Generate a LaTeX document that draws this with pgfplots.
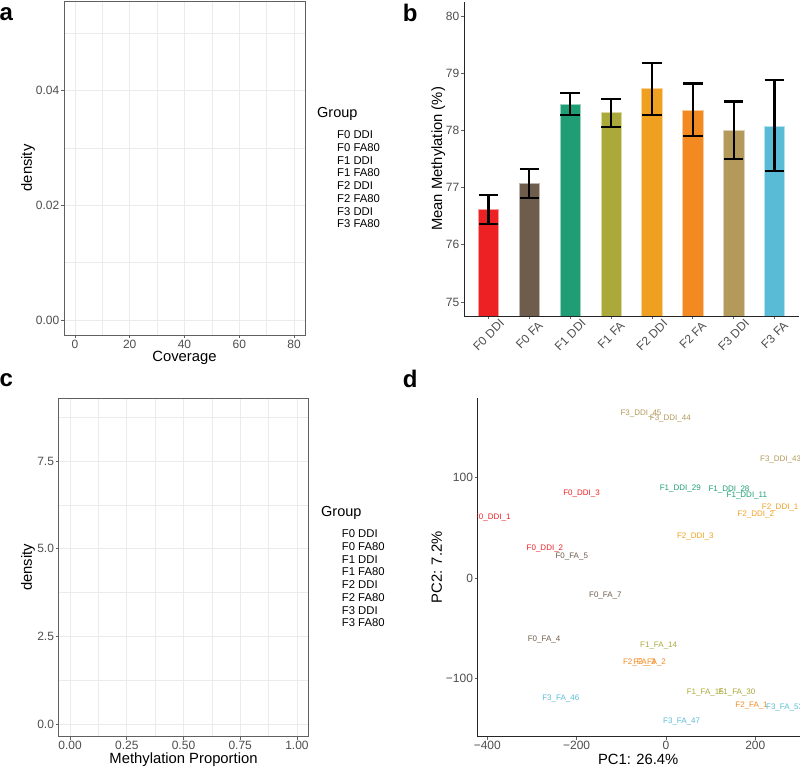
\documentclass[border=0pt]{standalone}
\usepackage{fontspec}
\setmainfont{Liberation Sans}
\usepackage{pgfplots}
\pgfplotsset{compat=1.18}
\definecolor{cA}{HTML}{ED2024}
\definecolor{cB}{HTML}{6E5C4C}
\definecolor{cC}{HTML}{1F9E75}
\definecolor{cD}{HTML}{AAA93A}
\definecolor{cE}{HTML}{F0A021}
\definecolor{cF}{HTML}{F28A21}
\definecolor{cG}{HTML}{B39A5A}
\definecolor{cH}{HTML}{5ABBD6}
\definecolor{tickgray}{HTML}{4D4D4D}
\definecolor{gridgray}{HTML}{EBEBEB}
\definecolor{framegray}{HTML}{606060}
\pgfplotsset{
  every axis/.append style={
    scale only axis,
    /pgf/number format/assume math mode=true,
    tick label style={font=\fontsize{12}{14}\selectfont, text=tickgray},
    label style={font=\fontsize{14.8}{17}\selectfont},
    tick align=outside,
    major tick length=3pt,
    minor tick length=0pt,
    tick style={draw=framegray, line width=0.6pt},
    xtick pos=bottom, ytick pos=left,
    yticklabel style={inner sep=1.5pt},
    xticklabel style={inner sep=1.5pt},
  },
  densityaxis/.style={
    axis line style={draw=framegray, line width=0.8pt},
    grid=both,
    major grid style={draw=gridgray, line width=0.9pt},
    minor grid style={draw=gridgray, line width=0.45pt},
  },
  errstyle/.style={
    error bars/.cd, y dir=both, y explicit,
    error bar style={line width=2.2pt, draw=black},
    error mark options={rotate=90, mark size=9.8pt, line width=2.2pt, draw=black},
  },
  pcalabel/.style={
    only marks, mark=*, mark size=0pt, mark options={draw=none, fill=none},
    point meta=explicit symbolic,
    nodes near coords,
    nodes near coords style={anchor=center, font=\fontsize{8}{9}\selectfont, text=#1, inner sep=0pt},
  },
}
\begin{document}
\begin{tikzpicture}
\useasboundingbox (0,0) rectangle (800pt,768pt);

% ---------- panel a ----------
\begin{axis}[densityaxis,
  at={(64pt,433pt)}, anchor=south west, width=241pt, height=334pt,
  xmin=-4, xmax=84, ymin=-0.00262, ymax=0.0556,
  xtick={0,20,40,60,80}, minor xtick={10,30,50,70},
  ytick={0,0.02,0.04}, minor ytick={0.01,0.03,0.05},
  scaled y ticks=false,
  yticklabel style={/pgf/number format/.cd, fixed, fixed zerofill, precision=2},
  xlabel={Coverage}, ylabel={density},
  xlabel style={at={(axis description cs:0.5,-0.0689)}, anchor=center},
  ylabel style={at={(axis description cs:-0.149,0.5)}, anchor=center},
]
\end{axis}

% ---------- panel b ----------
\begin{axis}[
  at={(464pt,452pt)}, anchor=south west, width=335pt, height=314pt,
  xmin=0.4, xmax=8.6, ymin=74.755, ymax=80.245,
  axis x line*=bottom, axis y line*=left,
  axis line style={draw=black!85, line width=0.9pt},
  xtick={1,2,3,4,5,6,7,8},
  xticklabels={F0 DDI, F0 FA, F1 DDI, F1 FA, F2 DDI, F2 FA, F3 DDI, F3 FA},
  xticklabel style={anchor=center, yshift=-16pt, rotate=45},
  ytick={75,76,77,78,79,80},
  ybar, bar width=0.5, bar shift=0pt,
  ylabel={Mean Methylation (\%)},
  ylabel style={at={(axis description cs:-0.0767,0.5)}, anchor=center},
]
\addplot[fill=cA, draw=cA!45!white, line width=0.6pt, errstyle] coordinates {(1,76.62) +- (0,0.25)};
\addplot[fill=cB, draw=cB!45!white, line width=0.6pt, errstyle] coordinates {(2,77.07) +- (0,0.25)};
\addplot[fill=cC, draw=cC!45!white, line width=0.6pt, errstyle] coordinates {(3,78.46) +- (0,0.19)};
\addplot[fill=cD, draw=cD!45!white, line width=0.6pt, errstyle] coordinates {(4,78.31) +- (0,0.245)};
\addplot[fill=cE, draw=cE!45!white, line width=0.6pt, errstyle] coordinates {(5,78.73) +- (0,0.455)};
\addplot[fill=cF, draw=cF!45!white, line width=0.6pt, errstyle] coordinates {(6,78.36) +- (0,0.46)};
\addplot[fill=cG, draw=cG!45!white, line width=0.6pt, errstyle] coordinates {(7,78.00) +- (0,0.505)};
\addplot[fill=cH, draw=cH!45!white, line width=0.6pt, errstyle] coordinates {(8,78.08) +- (0,0.795)};
\end{axis}

% ---------- panel c ----------
\begin{axis}[densityaxis,
  at={(58.7pt,31.3pt)}, anchor=south west, width=249.6pt, height=338.4pt,
  xmin=-0.05, xmax=1.05, ymin=-0.353, ymax=9.286,
  xtick={0,0.25,0.5,0.75,1}, minor xtick={0.125,0.375,0.625,0.875},
  ytick={0,2.5,5,7.5}, minor ytick={1.25,3.75,6.25,8.75},
  xticklabel style={/pgf/number format/.cd, fixed, fixed zerofill, precision=2},
  yticklabel style={/pgf/number format/.cd, fixed, fixed zerofill, precision=1},
  xlabel={Methylation Proportion}, ylabel={density},
  xlabel style={at={(axis description cs:0.5,-0.0668)}, anchor=center},
  ylabel style={at={(axis description cs:-0.123,0.5)}, anchor=center},
]
\end{axis}

% ---------- panel d ----------
\begin{axis}[
  at={(477.7pt,31.3pt)}, anchor=south west, width=322.3pt, height=338.7pt,
  xmin=-421.5, xmax=300, ymin=-157.6, ymax=178.7,
  axis x line*=bottom, axis y line*=left,
  axis line style={draw=black!85, line width=0.9pt},
  clip marker paths=true,
  xtick={-400,-200,0,200}, xticklabels={−400,−200,0,200},
  ytick={-100,0,100}, yticklabels={−100,0,100},
  xlabel={PC1: 26.4\%}, ylabel={PC2: 7.2\%},
  xlabel style={at={(axis description cs:0.498,-0.0667)}, anchor=center},
  ylabel style={at={(axis description cs:-0.127,0.5)}, anchor=center},
]
\addplot[pcalabel=cA] coordinates {(-389,59.6)[F0\_DDI\_1] (-189,83.4)[F0\_DDI\_3] (-271,28.8)[F0\_DDI\_2]};
\addplot[pcalabel=cB] coordinates {(-211,21.5)[F0\_FA\_5] (-135.7,-17.5)[F0\_FA\_7] (-273,-61.3)[F0\_FA\_4]};
\addplot[pcalabel=cC] coordinates {(32,88.7)[F1\_DDI\_29] (141,87.7)[F1\_DDI\_28] (181,81.8)[F1\_DDI\_11]};
\addplot[pcalabel=cD] coordinates {(-16.4,-66.6)[F1\_FA\_14] (88,-114.2)[F1\_FA\_15] (158.8,-114.2)[F1\_FA\_30]};
\addplot[pcalabel=cE] coordinates {(255.6,69.5)[F2\_DDI\_1] (201,63)[F2\_DDI\_2] (65.6,41.4)[F2\_DDI\_3]};
\addplot[pcalabel=cF] coordinates {(-59.7,-84.4)[F2\_FA\_3] (-36.5,-84.4)[F2\_FA\_2] (191.8,-126.5)[F2\_FA\_1]};
\addplot[pcalabel=cG] coordinates {(-56,163)[F3\_DDI\_45] (9.7,158)[F3\_DDI\_44] (256.5,117.5)[F3\_DDI\_43]};
\addplot[pcalabel=cH] coordinates {(-235.6,-119.9)[F3\_FA\_46] (35,-142.4)[F3\_FA\_47] (265.5,-129)[F3\_FA\_53]};
\end{axis}

% ---------- legends (keys empty, as in the reference) ----------
\node[anchor=west, inner sep=0pt, font=\fontsize{14.5}{16}\selectfont] at (317pt,654pt) {Group};
\foreach \t [count=\i from 0] in {F0 DDI, F0 FA80, F1 DDI, F1 FA80, F2 DDI, F2 FA80, F3 DDI, F3 FA80}
  \node[anchor=west, inner sep=0pt, font=\fontsize{11.3}{13}\selectfont] at (337pt,{(633-12.7*\i)*1pt}) {\t};
\node[anchor=west, inner sep=0pt, font=\fontsize{14.5}{16}\selectfont] at (321pt,254.7pt) {Group};
\foreach \t [count=\i from 0] in {F0 DDI, F0 FA80, F1 DDI, F1 FA80, F2 DDI, F2 FA80, F3 DDI, F3 FA80}
  \node[anchor=west, inner sep=0pt, font=\fontsize{11.3}{13}\selectfont] at (341.7pt,{(234-12.7*\i)*1pt}) {\t};

% ---------- panel letters ----------
\node[inner sep=0pt, font=\bfseries\fontsize{24}{26}\selectfont] at (6.3pt,754.3pt) {a};
\node[inner sep=0pt, font=\bfseries\fontsize{24}{26}\selectfont] at (410.3pt,754.7pt) {b};
\node[inner sep=0pt, font=\bfseries\fontsize{24}{26}\selectfont] at (6.3pt,388pt) {c};
\node[inner sep=0pt, font=\bfseries\fontsize{24}{26}\selectfont] at (410.3pt,389pt) {d};
\end{tikzpicture}
\end{document}
